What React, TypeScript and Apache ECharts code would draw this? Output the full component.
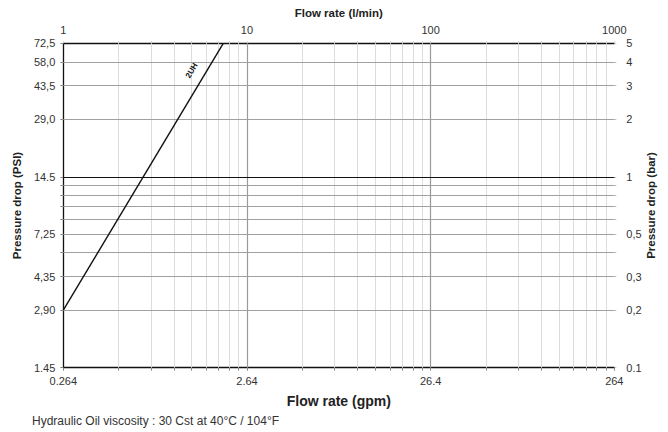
import React, { useEffect, useRef } from "react";
import * as echarts from "echarts";

// Flow rate axis (l/min) and its gpm equivalents
const flowDecades = [1, 10, 100, 1000];
const flowLabels = ["1", "10", "100", "1000"];
const gpmLabels = ["0.264", "2.64", "26.4", "264"];
const flowMinor = [2, 3, 4, 5, 6, 7, 8, 9, 20, 30, 40, 50, 60, 70, 80, 90, 200, 300, 400, 500, 600, 700, 800, 900];
const flowMajor = [10, 100];

// Pressure drop axis (bar) and PSI equivalents
const barLabelValues = [0.1, 0.2, 0.3, 0.5, 1, 2, 3, 4, 5];
const barLabels = ["0.1", "0,2", "0,3", "0,5", "1", "2", "3", "4", "5"];
const psiLabels = ["1.45", "2,90", "4,35", "7,25", "14.5", "29,0", "43,5", "58,0", "72,5"];
const barGrid = [0.2, 0.3, 0.4, 0.5, 0.6, 0.7, 0.8, 0.9, 2, 3, 4];
const barMajor = [1];
const barTicks = [0.1, 0.2, 0.3, 0.4, 0.5, 0.6, 0.7, 0.8, 0.9, 1, 2, 3, 4, 5];

// Curve 2UH
const curveName = "2UH";
const curveFlow = [1, 7.43];
const curveBar = [0.2, 5];
const curveLabelAt = [5.0, 3.6];

const footnote = "Hydraulic Oil viscosity : 30 Cst at 40°C / 104°F";

const FONT = 'Arial, "Liberation Sans", sans-serif';

function lookup(values: number[], labels: string[], v: number): string {
  for (let i = 0; i < values.length; i++) {
    if (Math.abs(Math.log10(v) - Math.log10(values[i])) < 1e-4) return labels[i];
  }
  return "";
}

export default function App() {
  const ref = useRef<HTMLDivElement>(null);
  useEffect(() => {
    document.body.style.margin = "0";
    const chart = echarts.init(ref.current!, undefined, { renderer: "svg" });
    const flowTicks = [...flowDecades, ...flowMinor].sort((a, b) => a - b);
    const labelStyle = { color: "#333", fontSize: 11, fontFamily: FONT };
    const nameStyle = { color: "#222", fontSize: 11.5, fontWeight: "bold" as const, fontFamily: FONT };

    const gridLines: any[] = [];
    flowMinor.forEach((v) =>
      gridLines.push({ xAxis: v, lineStyle: { color: "#dcdcdc", width: 1, type: "solid" } })
    );
    flowMajor.forEach((v) =>
      gridLines.push({ xAxis: v, lineStyle: { color: "#9a9a9a", width: 1.2, type: "solid" } })
    );
    barGrid.forEach((v) =>
      gridLines.push({ yAxis: v, lineStyle: { color: "#a0a0a0", width: 1, type: "solid" } })
    );
    barMajor.forEach((v) =>
      gridLines.push({ yAxis: v, lineStyle: { color: "#111", width: 1.2, type: "solid" } })
    );

    chart.setOption({
      animation: false,
      textStyle: { fontFamily: FONT },
      grid: { left: 63.3, right: 53.7, top: 43.3, bottom: 64.3, containLabel: false },
      xAxis: [
        {
          type: "log",
          logBase: 10,
          min: 1,
          max: 1000,
          position: "bottom",
          name: "Flow rate (gpm)",
          nameLocation: "middle",
          nameGap: 26,
          nameTextStyle: { ...nameStyle, fontSize: 14 },
          axisLine: { show: true, onZero: false, lineStyle: { color: "#111", width: 1.3 } },
          axisTick: { show: true, length: 3, customValues: flowTicks, lineStyle: { color: "#888" } },
          axisLabel: {
            ...labelStyle,
            margin: 8,
            customValues: flowDecades,
            formatter: (v: number) => lookup(flowDecades, gpmLabels, v),
          },
          splitLine: { show: false },
          minorTick: { show: false },
        },
        {
          type: "log",
          logBase: 10,
          min: 1,
          max: 1000,
          position: "top",
          name: "Flow rate (l/min)",
          nameLocation: "middle",
          nameGap: 24,
          nameTextStyle: nameStyle,
          axisLine: { show: true, onZero: false, lineStyle: { color: "#111", width: 1.3 } },
          axisTick: { show: true, length: 2, customValues: flowTicks, lineStyle: { color: "#ccc" } },
          axisLabel: {
            ...labelStyle,
            margin: 8,
            customValues: flowDecades,
            formatter: (v: number) => lookup(flowDecades, flowLabels, v),
          },
          splitLine: { show: false },
        },
      ],
      yAxis: [
        {
          type: "log",
          logBase: 10,
          min: 0.1,
          max: 5,
          position: "left",
          name: "Pressure drop (PSI)",
          nameLocation: "middle",
          nameGap: 39,
          nameTextStyle: nameStyle,
          axisLine: { show: true, onZero: false, lineStyle: { color: "#111", width: 1.3 } },
          axisTick: { show: true, length: 3, customValues: barTicks, lineStyle: { color: "#888" } },
          axisLabel: {
            ...labelStyle,
            margin: 8,
            customValues: barLabelValues,
            formatter: (v: number) => lookup(barLabelValues, psiLabels, v),
          },
          splitLine: { show: false },
        },
        {
          type: "log",
          logBase: 10,
          min: 0.1,
          max: 5,
          position: "right",
          name: "Pressure drop (bar)",
          nameLocation: "middle",
          nameRotate: 90,
          nameMoveOverlap: false,
          nameGap: 31,
          nameTextStyle: nameStyle,
          axisLine: { show: false },
          axisTick: { show: true, length: 2, customValues: barTicks, lineStyle: { color: "#bbb" } },
          axisLabel: {
            ...labelStyle,
            margin: 12,
            customValues: barLabelValues,
            formatter: (v: number) => lookup(barLabelValues, barLabels, v),
          },
          splitLine: { show: false },
        },
      ],
      series: [
        {
          type: "line",
          name: "grid",
          xAxisIndex: 0,
          yAxisIndex: 1,
          data: [],
          z: 1,
          silent: true,
          markLine: {
            silent: true,
            symbol: ["none", "none"],
            label: { show: false },
            emphasis: { disabled: true },
            data: gridLines,
          },
        },
        {
          type: "line",
          name: curveName,
          xAxisIndex: 0,
          yAxisIndex: 1,
          z: 5,
          data: curveFlow.map((f, i) => [f, curveBar[i]]),
          showSymbol: false,
          symbol: "none",
          lineStyle: { color: "#111", width: 1.4 },
          markPoint: {
            silent: true,
            symbol: "circle",
            symbolSize: 0,
            data: [{ coord: curveLabelAt }],
            label: {
              show: true,
              position: "inside",
              formatter: curveName,
              rotate: 59,
              color: "#111",
              fontSize: 8,
              fontWeight: "bold",
              fontFamily: FONT,
            },
          },
        },
      ],
      graphic: [
        {
          type: "text",
          left: 32,
          top: 415,
          style: { text: footnote, fill: "#333", fontSize: 12, fontFamily: FONT },
        },
      ],
    });
    return () => chart.dispose();
  }, []);
  return <div ref={ref} style={{ width: 668, height: 432 }} />;
}
